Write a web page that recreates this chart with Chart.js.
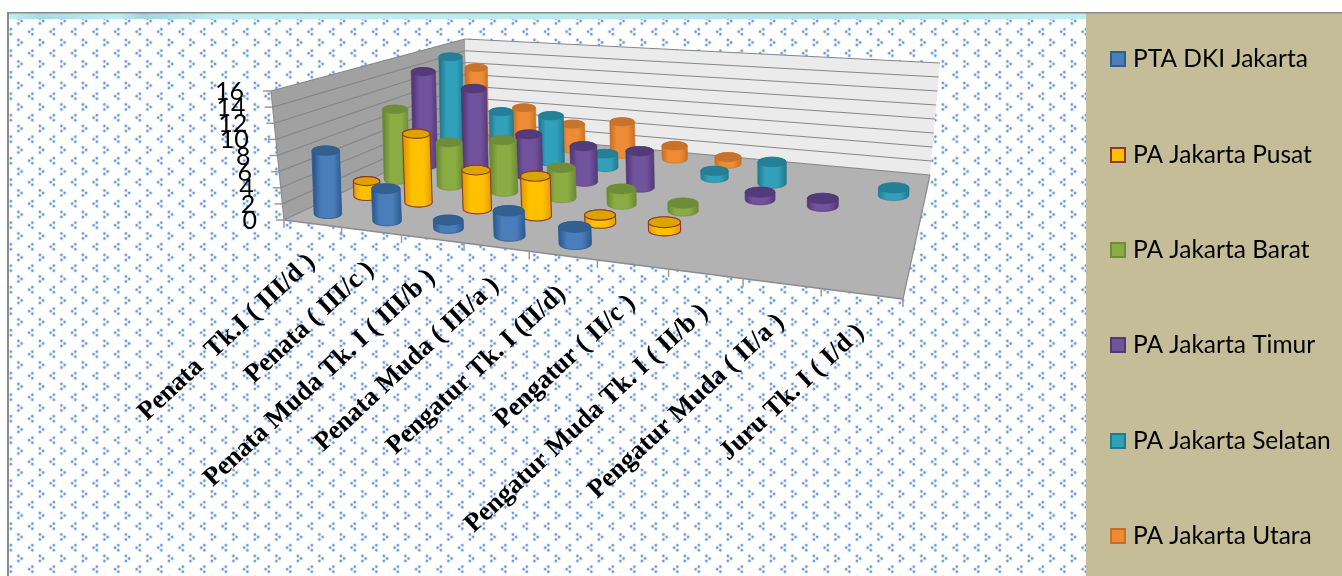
<!DOCTYPE html>
<html><head><meta charset="utf-8">
<style>html,body{margin:0;padding:0;background:#fff;overflow:hidden}canvas{display:block}</style>
<script src="https://cdn.jsdelivr.net/npm/chart.js@4"></script>
</head><body><canvas id="c" width="1342" height="576"></canvas>
<script>
const categories = ["Penata  Tk.I ( III/d )","Penata ( III/c )","Penata Muda Tk. I ( III/b )","Penata Muda ( III/a )","Pengatur Tk. I (II/d)","Pengatur ( II/c )","Pengatur Muda Tk. I ( II/b )","Pengatur Muda ( II/a )","Juru Tk. I ( I/d )"];
const ptaDki   = [8,4,1,3,2,null,null,null,null];
const paPusat  = [2,9,5,5,1,1,null,null,null];
const paBarat  = [10,6,7,4,2,1,null,null,null];
const paTimur  = [14,12,6,5,5,null,1,1,null];
const paSelatan= [15,7,7,2,null,1,3,null,1];
const paUtara  = [12,6,4,5,2,1,null,null,null];
const yTicks = [0,2,4,6,8,10,12,14,16];

// projected plot box: floor and ceiling corners [front-left, front-right, back-right, back-left]
const FLOOR = [[284,220],[903,299],[930,175],[468,133]];
const ROOF  = [[271,91],[921,145],[940,63],[465,39]];
function quad(q){
  const [[x0,y0],[x1,y1],[x2,y2],[x3,y3]]=q;
  const dx1=x1-x2,dx2=x3-x2,sx=x0-x1+x2-x3,dy1=y1-y2,dy2=y3-y2,sy=y0-y1+y2-y3;
  const d=dx1*dy2-dx2*dy1;
  const g=(sx*dy2-dx2*sy)/d,h=(dx1*sy-sx*dy1)/d;
  const a=x1-x0+g*x1,b=x3-x0+h*x3,c=x0,e=y1-y0+g*y1,f=y3-y0+h*y3,i=y0;
  return (u,v)=>{const w=g*u+h*v+1;return [(a*u+b*v+c)/w,(e*u+f*v+i)/w];};
}
const floorAt=quad(FLOOR), roofAt=quad(ROOF);
function P(u,v,w){const a=floorAt(u,v),b=roofAt(u,v);return [a[0]+(b[0]-a[0])*w,a[1]+(b[1]-a[1])*w];}

function tile(){
  const t=document.createElement('canvas');t.width=43;t.height=43;const g=t.getContext('2d');
  const dot=(x,y)=>{g.fillStyle='rgba(140,178,230,.35)';g.beginPath();g.arc(x,y,2,0,7);g.fill();g.fillStyle='#6a99d6';g.beginPath();g.arc(x,y,1.15,0,7);g.fill();};
  const mark=(x,y,s)=>{dot(x-1.6*s,y-2.5);dot(x+1.6*s,y);dot(x-1.6*s,y+2.5);};
  [[20,21],[41.5,21],[20,42.5],[41.5,42.5],[-1.5,21],[20,-0.5],[41.5,-0.5],[-1.5,42.5],[-1.5,-0.5]].forEach(p=>mark(p[0],p[1],1));
  [[9.25,10.25],[30.75,10.25],[9.25,31.75],[30.75,31.75]].forEach(p=>mark(p[0],p[1],-1));
  return t;
}
function poly(ctx,pts,fill){ctx.beginPath();pts.forEach((p,i)=>i?ctx.lineTo(p[0],p[1]):ctx.moveTo(p[0],p[1]));ctx.closePath();ctx.fillStyle=fill;ctx.fill();}
function seg(ctx,a,b,col,w){ctx.strokeStyle=col;ctx.lineWidth=w;ctx.beginPath();ctx.moveTo(a[0],a[1]);ctx.lineTo(b[0],b[1]);ctx.stroke();}

const scene={id:'scene',
  beforeDraw(chart){
    const ctx=chart.ctx,W=chart.width,H=chart.height;
    ctx.save();
    ctx.fillStyle='#fff';ctx.fillRect(0,0,W,H);
    ctx.fillStyle=ctx.createPattern(tile(),'repeat');ctx.fillRect(9,14,1080,H);
    const g=ctx.createLinearGradient(9,0,1086,0);
    g.addColorStop(0,'#bdf0f4');g.addColorStop(.03,'#a2dce3');g.addColorStop(.1,'#bdf0f4');g.addColorStop(.125,'#9ad8e0');g.addColorStop(.2,'#bdf0f4');g.addColorStop(.75,'#b0e7ec');g.addColorStop(1,'#bdf0f4');
    ctx.fillStyle=g;ctx.fillRect(9,13,1077,6);
    ctx.fillStyle='#c4bd97';ctx.fillRect(1086,13,256,H);
    ctx.fillStyle='#8c8c8c';ctx.fillRect(7,12,W,1.5);ctx.fillRect(7,12,2,H);
    // walls and floor
    poly(ctx,[P(0,0,0),P(0,1,0),P(0,1,1),P(0,0,1)],'#a1a1a1');
    poly(ctx,[P(0,1,0),P(1,1,0),P(1,1,1),P(0,1,1)],'#ebebeb');
    poly(ctx,[P(0,0,0),P(1,0,0),P(1,1,0),P(0,1,0)],'#b2b2b2');
    const y=chart.scales.y;
    ctx.lineCap='butt';
    // gridlines and value axis
    y.ticks.forEach(t=>{
      const w=(y.bottom-y.getPixelForValue(t.value))/(y.bottom-y.top);
      seg(ctx,P(0,0,w),P(0,1,w),'#868686',1.2);
      seg(ctx,P(0,1,w),P(1,1,w),'#868686',1.2);
      const a=P(0,0,w);seg(ctx,[a[0]-8,a[1]],a,'#9a9a9a',1.5);
    });
    seg(ctx,P(0,0,0),P(0,0,1),'#8c8c8c',1.2);
    seg(ctx,P(0,0,0),P(1,0,0),'#8c8c8c',1.5);
    seg(ctx,P(1,0,0),P(1,1,0),'#8c8c8c',1.2);
    // category ticks
    for(let i=0;i<=categories.length;i++){const a=P(i/categories.length,0,0);seg(ctx,a,[a[0],a[1]+8],'#9a9a9a',1.5);}
    ctx.restore();
  },
  beforeDatasetDraw(chart,args){
    const ctx=chart.ctx,meta=args.meta,ds=chart.data.datasets[args.index],x=chart.scales.x,y=chart.scales.y;
    const v=(args.index+.5)/chart.data.datasets.length;
    const du=.027;
    ctx.save();
    meta.data.forEach((el,i)=>{
      const val=ds.data[i];if(val==null)return;
      const u=(x.getPixelForValue(i)-x.left)/x.width;
      const w=(y.bottom-y.getPixelForValue(val))/(y.bottom-y.top);
      const b=P(u,v,0),t=P(u,v,w);
      b[0]=t[0]+(b[0]-t[0])*.35;
      const rx=Math.hypot(P(u+du,v,0)[0]-P(u-du,v,0)[0],P(u+du,v,0)[1]-P(u-du,v,0)[1])/2;
      const ry=rx*.34;
      const g=ctx.createLinearGradient(b[0]-rx,0,b[0]+rx,0);
      g.addColorStop(0,ds.shade);g.addColorStop(.25,ds.backgroundColor);g.addColorStop(.7,ds.backgroundColor);g.addColorStop(1,ds.shade);
      ctx.beginPath();
      ctx.moveTo(t[0]-rx,t[1]);
      ctx.lineTo(b[0]-rx,b[1]);
      ctx.ellipse(b[0],b[1],rx,ry,0,Math.PI,0,true);
      ctx.lineTo(t[0]+rx,t[1]);
      ctx.ellipse(t[0],t[1],rx,ry,0,0,Math.PI,true);
      ctx.closePath();
      ctx.fillStyle=g;ctx.fill();
      ctx.strokeStyle=ds.borderColor;ctx.lineWidth=ds.outline;ctx.stroke();
      ctx.beginPath();ctx.ellipse(t[0],t[1],rx,ry,0,0,7);
      ctx.fillStyle=ds.cap;ctx.fill();ctx.stroke();
    });
    ctx.restore();
    return false;
  },
  afterDraw(chart){
    const ctx=chart.ctx,y=chart.scales.y,x=chart.scales.x;
    ctx.save();
    // value labels follow the slanted wall edge
    ctx.fillStyle='#000';ctx.font='25px Lato';ctx.textAlign='right';ctx.textBaseline='middle';
    y.ticks.forEach(t=>{
      const w=(y.bottom-y.getPixelForValue(t.value))/(y.bottom-y.top);
      const a=P(0,0,w);ctx.fillText(t.label,a[0]-27,a[1]+1);
    });
    // category labels
    ctx.font='bold 26.5px "Liberation Serif"';ctx.textAlign='right';
    categories.forEach((c,i)=>{
      const u=(x.getPixelForValue(i)-x.left)/x.width,a=P(u,0,0);
      ctx.save();ctx.translate(a[0]-1,a[1]+35);ctx.rotate(-43*Math.PI/180);ctx.fillText(c,0,0);ctx.restore();
    });
    // legend
    ctx.textAlign='left';ctx.font='24.5px Lato';
    const ys=[59,155,250,345,441,536];
    chart.data.datasets.forEach((d,i)=>{
      ctx.fillStyle=d.backgroundColor;ctx.strokeStyle=d.borderColor;ctx.lineWidth=2;
      ctx.fillRect(1111,ys[i]-7,14,14);ctx.strokeRect(1111,ys[i]-7,14,14);
      ctx.fillStyle='#000';ctx.fillText(d.label,1133,ys[i]);
    });
    ctx.restore();
  }
};

new Chart(document.getElementById('c'),{
  type:'bar',
  data:{labels:categories,datasets:[
    {label:'PTA DKI Jakarta',data:ptaDki,backgroundColor:'#4a7ebb',shade:'#2b5a90',cap:'#33608f',borderColor:'#2c5c93',outline:.8},
    {label:'PA Jakarta Pusat',data:paPusat,backgroundColor:'#ffc000',shade:'#e39c00',cap:'#dca400',borderColor:'#8b3a2a',outline:1.1},
    {label:'PA Jakarta Barat',data:paBarat,backgroundColor:'#8bab43',shade:'#6b8a33',cap:'#6f8c38',borderColor:'#6f8c38',outline:.6},
    {label:'PA Jakarta Timur',data:paTimur,backgroundColor:'#71529c',shade:'#523878',cap:'#533a78',borderColor:'#4f3873',outline:.6},
    {label:'PA Jakarta Selatan',data:paSelatan,backgroundColor:'#31a0bb',shade:'#217a90',cap:'#257f96',borderColor:'#217a90',outline:.6},
    {label:'PA Jakarta Utara',data:paUtara,backgroundColor:'#ee8c35',shade:'#c96f24',cap:'#c8732c',borderColor:'#c96f24',outline:.6}
  ]},
  options:{
    responsive:false,animation:false,devicePixelRatio:1,
    layout:{padding:{top:91,bottom:356,left:0,right:256}},
    plugins:{legend:{display:false},tooltip:{enabled:false},title:{display:false}},
    scales:{
      x:{type:'category',grid:{display:false},border:{display:false},ticks:{display:false},afterFit(s){s.height=0;}},
      y:{type:'linear',min:0,max:16,afterBuildTicks(s){s.ticks=yTicks.map(v=>({value:v,label:String(v)}));},grid:{display:false},border:{display:false},ticks:{display:false},afterFit(s){s.width=262;}}
    }
  },
  plugins:[scene]
});
</script></body></html>
